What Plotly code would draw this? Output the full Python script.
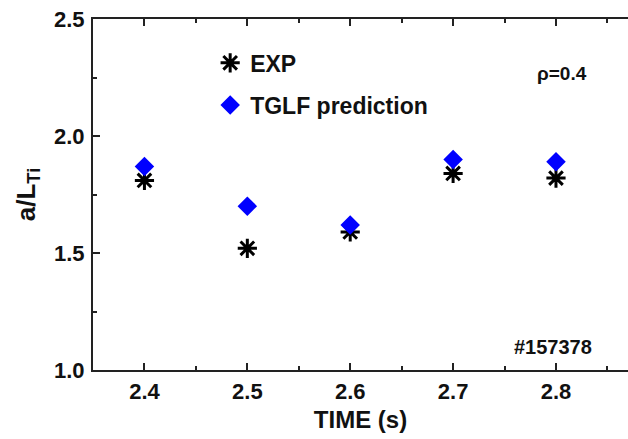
import plotly.graph_objects as go

# Time slices (s) and normalized ion temperature gradient a/L_Ti at rho = 0.4
time_s = [2.4, 2.5, 2.6, 2.7, 2.8]
exp_vals = [1.81, 1.52, 1.59, 1.84, 1.82]
tglf_vals = [1.87, 1.70, 1.62, 1.90, 1.89]

x_ticks = [2.4, 2.5, 2.6, 2.7, 2.8]
y_ticks = [1.0, 1.5, 2.0, 2.5]

FONT = "Liberation Sans, Arial, sans-serif"

fig = go.Figure()
fig.add_trace(go.Scatter(
    x=time_s, y=exp_vals, mode="markers", name="<b>EXP</b>",
    marker=dict(symbol="asterisk-open", size=16, color="black",
                line=dict(color="black", width=3)),
    legend="legend",
))
fig.add_trace(go.Scatter(
    x=time_s, y=tglf_vals, mode="markers", name="<b>TGLF prediction</b>",
    marker=dict(symbol="diamond", size=15, color="#0000ff",
                line=dict(width=0)),
    legend="legend2",
))

axis_common = dict(
    showline=True, linecolor="#222222", linewidth=2,
    ticks="inside", tickcolor="#222222", tickwidth=2, ticklen=7,
    showgrid=False, zeroline=False,
    tickfont=dict(family=FONT, size=22, color="#111111", weight="bold"),
)

fig.update_xaxes(
    range=[2.35, 2.87], tickvals=x_ticks, ticktext=[f"{v:.1f}" for v in x_ticks],
    mirror="ticks",
    minor=dict(ticks="inside", ticklen=4, tickwidth=2, tickcolor="#222222", dtick=0.05),
    title=dict(text="<b>TIME (s)</b>", font=dict(family=FONT, size=24, color="#111111"),
               standoff=8),
    ticklabelstandoff=1,
    **axis_common,
)
fig.update_yaxes(
    range=[1.0, 2.5], tickvals=y_ticks, ticktext=[f"{v:.1f}" for v in y_ticks],
    mirror=False,
    minor=dict(ticks="inside", ticklen=4, tickwidth=2, tickcolor="#222222", dtick=0.25),
    title=dict(text="<b>a/L<sub>Ti</sub></b>", font=dict(family=FONT, size=26, color="#111111"),
               standoff=11),
    ticklabelstandoff=2,
    **axis_common,
)

legend_style = dict(
    xanchor="left", yanchor="middle", bgcolor="rgba(0,0,0,0)",
    font=dict(family=FONT, size=23, color="#111111"),
    borderwidth=0, itemsizing="trace",
)

fig.update_layout(
    width=628, height=439,
    margin=dict(l=93, r=0, t=19, b=69),
    paper_bgcolor="white", plot_bgcolor="white",
    showlegend=True,
    legend=dict(x=0.219, y=0.875, **legend_style),
    legend2=dict(x=0.219, y=0.755, **legend_style),
    annotations=[
        dict(text="<b>ρ=0.4</b>", xref="paper", yref="paper", x=0.877, y=0.846,
             xanchor="center", yanchor="middle", showarrow=False,
             font=dict(family=FONT, size=19, color="#111111")),
        dict(text="<b>#157378</b>", xref="paper", yref="paper", x=0.86, y=0.066,
             xanchor="center", yanchor="middle", showarrow=False,
             font=dict(family=FONT, size=20, color="#111111")),
    ],
)

fig.write_html("out.html")
